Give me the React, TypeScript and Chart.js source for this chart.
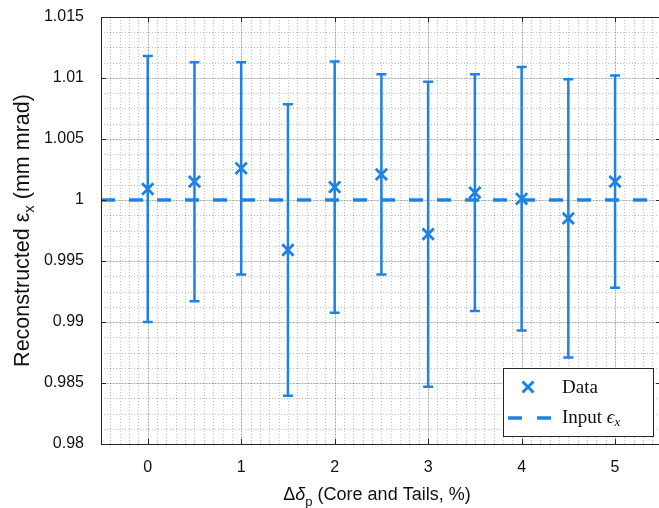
import { useEffect, useRef } from 'react';
import { Chart, registerables } from 'chart.js';

Chart.register(...registerables);

// ---- data ----
const xValues = [0, 0.5, 1, 1.5, 2, 2.5, 3, 3.5, 4, 4.5, 5];
const yValues = [1.0009, 1.0015, 1.0026, 0.9959, 1.00105, 1.0021, 0.9972, 1.0006, 1.0001, 0.9985, 1.0015];
const yErrors = [0.0109, 0.0098, 0.0087, 0.01195, 0.0103, 0.0082, 0.0125, 0.0097, 0.0108, 0.0114, 0.0087];
const inputValue = 1.0;
const xTicks = [0, 1, 2, 3, 4, 5];
const yTicks = [0.98, 0.985, 0.99, 0.995, 1, 1.005, 1.01, 1.015];
const xRange = [-0.5, 5.47];
const yRange = [0.98, 1.015];
const xMinorStep = 0.1;
const yMinorStep = 0.00125;

const BLUE = 'rgb(28,130,230)';
const AXIS = '#262626';
const SANS = '"Liberation Sans", Arial, Helvetica, sans-serif';
const SERIF = '"Liberation Serif", "Times New Roman", serif';

const W = 659;
const H = 508;

type Seg = { text: string; font: string; dy?: number };

function drawRich(ctx: CanvasRenderingContext2D, segs: Seg[], x: number, y: number, align: 'left' | 'center') {
  let total = 0;
  const widths: number[] = [];
  for (const s of segs) {
    ctx.font = s.font;
    const w = ctx.measureText(s.text).width;
    widths.push(w);
    total += w;
  }
  let cx = align === 'center' ? x - total / 2 : x;
  ctx.textAlign = 'left';
  ctx.textBaseline = 'alphabetic';
  segs.forEach((s, i) => {
    ctx.font = s.font;
    ctx.fillText(s.text, cx, y + (s.dy || 0));
    cx += widths[i];
  });
}

const matlabPlugin = {
  id: 'matlabPlugin',
  beforeDatasetsDraw(chart: any) {
    const { ctx, chartArea: a, scales } = chart;
    const x = scales.x;
    const y = scales.y;
    ctx.save();
    ctx.beginPath();
    ctx.rect(a.left, a.top, a.right - a.left, a.bottom - a.top);
    ctx.clip();
    // minor grid
    ctx.strokeStyle = 'rgba(0,0,0,0.25)';
    ctx.lineWidth = 1;
    ctx.setLineDash([1, 2]);
    const xi0 = Math.ceil(xRange[0] / xMinorStep);
    const xi1 = Math.floor(xRange[1] / xMinorStep);
    for (let i = xi0; i <= xi1; i++) {
      const v = i * xMinorStep;
      const px = Math.round(x.getPixelForValue(v)) + 0.5;
      ctx.beginPath();
      ctx.moveTo(px, a.top);
      ctx.lineTo(px, a.bottom);
      ctx.stroke();
    }
    const yn = Math.round((yRange[1] - yRange[0]) / yMinorStep);
    for (let i = 0; i <= yn; i++) {
      const v = yRange[0] + i * yMinorStep;
      const py = Math.round(y.getPixelForValue(v)) + 0.5;
      ctx.beginPath();
      ctx.moveTo(a.left, py);
      ctx.lineTo(a.right, py);
      ctx.stroke();
    }
    // major grid
    ctx.setLineDash([]);
    ctx.strokeStyle = 'rgba(0,0,0,0.15)';
    for (const v of xTicks) {
      const px = Math.round(x.getPixelForValue(v)) + 0.5;
      ctx.beginPath();
      ctx.moveTo(px, a.top);
      ctx.lineTo(px, a.bottom);
      ctx.stroke();
    }
    for (const v of yTicks) {
      const py = Math.round(y.getPixelForValue(v)) + 0.5;
      ctx.beginPath();
      ctx.moveTo(a.left, py);
      ctx.lineTo(a.right, py);
      ctx.stroke();
    }
    // error bars
    ctx.strokeStyle = BLUE;
    ctx.lineWidth = 2.5;
    xValues.forEach((xv, i) => {
      const px = x.getPixelForValue(xv);
      const top = y.getPixelForValue(yValues[i] + yErrors[i]);
      const bot = y.getPixelForValue(yValues[i] - yErrors[i]);
      ctx.beginPath();
      ctx.moveTo(px, top);
      ctx.lineTo(px, bot);
      ctx.moveTo(px - 5, top);
      ctx.lineTo(px + 5, top);
      ctx.moveTo(px - 5, bot);
      ctx.lineTo(px + 5, bot);
      ctx.stroke();
    });
    ctx.restore();
  },
  afterDatasetsDraw(chart: any) {
    const { ctx, chartArea: a, scales } = chart;
    const x = scales.x;
    const y = scales.y;
    ctx.save();
    ctx.strokeStyle = AXIS;
    ctx.lineWidth = 1;
    ctx.beginPath();
    ctx.moveTo(a.left + 0.5, a.top + 0.5);
    ctx.lineTo(a.left + 0.5, a.bottom + 0.5);
    ctx.lineTo(a.right, a.bottom + 0.5);
    ctx.moveTo(a.left + 0.5, a.top + 0.5);
    ctx.lineTo(a.right, a.top + 0.5);
    ctx.stroke();
    const tl = 5;
    ctx.beginPath();
    for (const v of xTicks) {
      const px = Math.round(x.getPixelForValue(v)) + 0.5;
      ctx.moveTo(px, a.bottom);
      ctx.lineTo(px, a.bottom - tl);
      ctx.moveTo(px, a.top);
      ctx.lineTo(px, a.top + tl);
    }
    for (const v of yTicks) {
      const py = Math.round(y.getPixelForValue(v)) + 0.5;
      ctx.moveTo(a.left, py);
      ctx.lineTo(a.left + tl, py);
      ctx.moveTo(a.right, py);
      ctx.lineTo(a.right - 3, py);
    }
    ctx.stroke();

    // axis titles
    ctx.fillStyle = '#111';
    const xSize = 18;
    const xFont = `${xSize}px ${SANS}`;
    const xsFont = `${Math.round(xSize * 0.72)}px ${SANS}`;
    const cxTitle = a.left + 276;
    drawRich(
      ctx,
      [
        { text: 'Δ', font: xFont },
        { text: 'δ', font: `italic ${xFont}` },
        { text: 'p', font: xsFont, dy: 6 },
        { text: ' (Core and Tails, %)', font: xFont },
      ],
      cxTitle,
      chart.height - 8,
      'center'
    );
    const ySize = 21.5;
    const yFont = `${ySize}px ${SANS}`;
    const ysFont = `${Math.round(ySize * 0.72)}px ${SANS}`;
    ctx.save();
    ctx.translate(29, (a.top + a.bottom) / 2);
    ctx.rotate(-Math.PI / 2);
    drawRich(
      ctx,
      [
        { text: 'Reconstructed ', font: yFont },
        { text: 'ε', font: yFont },
        { text: 'x', font: ysFont, dy: 5 },
        { text: ' (mm mrad)', font: yFont },
      ],
      0,
      0,
      'center'
    );
    ctx.restore();
    ctx.restore();
  },
  afterDraw(chart: any) {
    const { ctx, chartArea: a } = chart;
    ctx.save();
    const w = 150;
    const h = 68;
    const bx = a.right - 6 - w;
    const by = a.bottom - 8 - h;
    ctx.fillStyle = '#fff';
    ctx.fillRect(bx, by, w, h);
    ctx.strokeStyle = AXIS;
    ctx.lineWidth = 1;
    ctx.strokeRect(Math.round(bx) + 0.5, Math.round(by) + 0.5, w, h);
    // marker
    ctx.strokeStyle = BLUE;
    ctx.lineWidth = 3;
    const mx = bx + 25;
    const my = by + 19;
    const r = 5.5;
    ctx.beginPath();
    ctx.moveTo(mx - r, my - r);
    ctx.lineTo(mx + r, my + r);
    ctx.moveTo(mx - r, my + r);
    ctx.lineTo(mx + r, my - r);
    ctx.stroke();
    // dashed line
    const ly = by + 50;
    ctx.lineWidth = 3.5;
    ctx.setLineDash([14, 15]);
    ctx.beginPath();
    ctx.moveTo(bx + 5, ly);
    ctx.lineTo(bx + 48, ly);
    ctx.stroke();
    ctx.setLineDash([]);
    ctx.fillStyle = '#111';
    const lf = `19px ${SERIF}`;
    drawRich(ctx, [{ text: 'Data', font: lf }], bx + 59, my + 6, 'left');
    drawRich(
      ctx,
      [
        { text: 'Input ', font: lf },
        { text: 'ϵ', font: `italic ${lf}` },
        { text: 'x', font: `italic 13px ${SERIF}`, dy: 3 },
      ],
      bx + 59,
      ly + 5,
      'left'
    );
    ctx.restore();
  },
};

function zeroPad(s: any) {
  s.paddingTop = 0;
  s.paddingBottom = 0;
  s.paddingLeft = 0;
  s.paddingRight = 0;
}

export default function App() {
  const ref = useRef<HTMLCanvasElement | null>(null);
  useEffect(() => {
    if (!ref.current) return;
    const chart = new Chart(ref.current, {
      type: 'scatter',
      data: {
        datasets: [
          {
            type: 'line',
            label: 'Input',
            data: [
              { x: xRange[0], y: inputValue },
              { x: 5.5, y: inputValue },
            ],
            borderColor: BLUE,
            borderWidth: 3.5,
            borderDash: [14, 14],
            pointRadius: 0,
            fill: false,
          } as any,
          {
            type: 'scatter',
            label: 'Data',
            data: xValues.map((xv, i) => ({ x: xv, y: yValues[i] })),
            pointStyle: 'crossRot',
            pointRadius: 8,
            pointBorderWidth: 2.8,
            borderColor: BLUE,
            backgroundColor: BLUE,
          } as any,
        ],
      },
      options: {
        animation: false,
        responsive: false,
        maintainAspectRatio: false,
        layout: { autoPadding: false, padding: { top: 17, right: 0, left: 0, bottom: 0 } },
        plugins: { legend: { display: false }, tooltip: { enabled: false } },
        scales: {
          x: {
            type: 'linear',
            min: xRange[0],
            max: xRange[1],
            grid: { display: false },
            border: { display: false },
            afterBuildTicks: (s: any) => {
              s.ticks = xTicks.map((v) => ({ value: v }));
            },
            afterFit: (s: any) => {
              s.height = 64;
              zeroPad(s);
            },
            ticks: {
              autoSkip: false,
              maxRotation: 0,
              minRotation: 0,
              padding: 6,
              color: '#111',
              font: { family: SANS, size: 16 },
              callback: (v: any) => String(v),
            },
          },
          y: {
            type: 'linear',
            min: yRange[0],
            max: yRange[1],
            grid: { display: false },
            border: { display: false },
            afterBuildTicks: (s: any) => {
              s.ticks = yTicks.map((v) => ({ value: v }));
            },
            afterFit: (s: any) => {
              s.width = 101;
              zeroPad(s);
            },
            ticks: {
              padding: 9,
              color: '#111',
              font: { family: SANS, size: 16 },
              callback: (v: any) => String(parseFloat(Number(v).toFixed(4))),
            },
          },
        },
      },
      plugins: [matlabPlugin],
    });
    return () => chart.destroy();
  }, []);
  return (
    <div style={{ position: 'fixed', left: 0, top: 0, width: W, height: H, background: '#fff' }}>
      <canvas ref={ref} width={W} height={H} style={{ display: 'block', width: W, height: H }} />
    </div>
  );
}
